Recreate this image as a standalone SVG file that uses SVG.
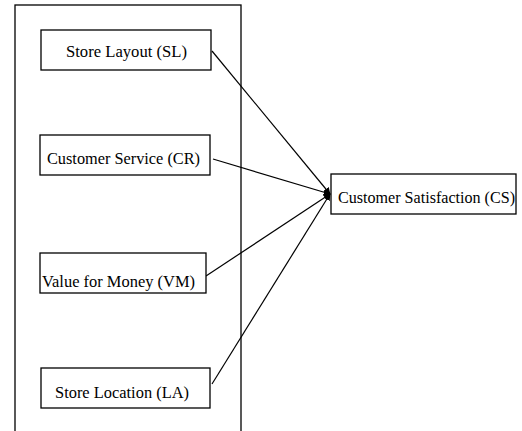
<svg xmlns="http://www.w3.org/2000/svg" width="522" height="431" viewBox="0 0 522 431">
<style>
.box{fill:#fff;stroke:#000;stroke-width:1.3}
.lbl{font-family:"Liberation Serif","Times New Roman",serif;font-size:16px;fill:#000}
.conn{stroke:#000;stroke-width:1.2;fill:none;marker-end:url(#ah)}
</style>
<defs>
<marker id="ah" viewBox="0 0 10 10" refX="9" refY="5" markerWidth="7" markerHeight="7" orient="auto" markerUnits="userSpaceOnUse">
<path d="M0,0 L10,5 L0,10 z" fill="#000"/>
</marker>
</defs>
<rect x="0" y="0" width="522" height="431" fill="#fff"/>
<g id="frame"><rect x="15" y="5" width="226" height="440" fill="none" stroke="#000" stroke-width="1.3"/></g>
<g id="connectors">
<line class="conn" x1="212" y1="51" x2="330" y2="194"/>
<line class="conn" x1="213" y1="159" x2="330" y2="194"/>
<line class="conn" x1="206" y1="276" x2="330" y2="194"/>
<line class="conn" x1="212" y1="384" x2="330" y2="194"/>
</g>
<g id="SL"><rect class="box" x="41" y="30" width="170" height="40"/><text class="lbl" x="66" y="57" textLength="121" lengthAdjust="spacingAndGlyphs">Store Layout (SL)</text></g>
<g id="CR"><rect class="box" x="40" y="135" width="170" height="40"/><text class="lbl" x="47" y="164" textLength="153" lengthAdjust="spacingAndGlyphs">Customer Service (CR)</text></g>
<g id="VM"><rect class="box" x="40" y="253" width="166" height="40"/><text class="lbl" x="42" y="287" textLength="153" lengthAdjust="spacingAndGlyphs">Value for Money (VM)</text></g>
<g id="LA"><rect class="box" x="41" y="368" width="169" height="40"/><text class="lbl" x="55" y="398" textLength="134" lengthAdjust="spacingAndGlyphs">Store Location (LA)</text></g>
<g id="CS"><rect class="box" x="331" y="174" width="185" height="40"/><text class="lbl" x="338" y="203" textLength="177" lengthAdjust="spacingAndGlyphs">Customer Satisfaction (CS)</text></g>
</svg>
